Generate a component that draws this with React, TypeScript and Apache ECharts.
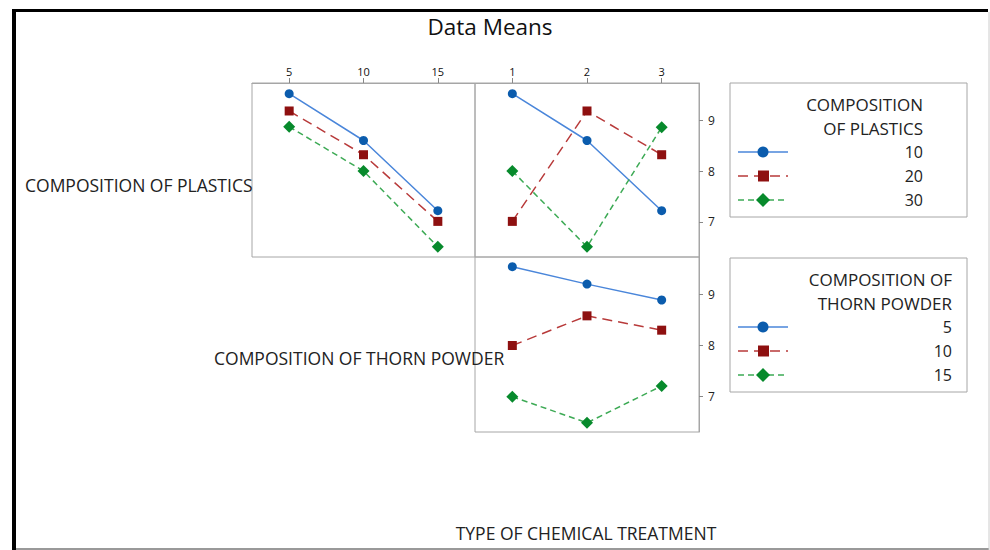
import React, { useEffect, useRef } from "react";
import * as echarts from "echarts";

const thornLevels = ["5", "10", "15"];
const treatmentLevels = ["1", "2", "3"];
const plasticsLegend = ["10", "20", "30"];
const thornLegend = ["5", "10", "15"];
const yTicks = [7, 8, 9];
const yMin = 6.31;
const yMax = 9.73;

// Means of plastics levels across thorn powder levels
const plastics10ByThorn = [9.52, 8.6, 7.22];
const plastics20ByThorn = [9.18, 8.32, 7.01];
const plastics30ByThorn = [8.87, 8.0, 6.51];
// Means of plastics levels across chemical treatment
const plastics10ByTreatment = [9.52, 8.6, 7.22];
const plastics20ByTreatment = [7.01, 9.18, 8.32];
const plastics30ByTreatment = [8.0, 6.51, 8.86];
// Means of thorn powder levels across chemical treatment
const thorn5ByTreatment = [9.54, 9.2, 8.89];
const thorn10ByTreatment = [8.0, 8.58, 8.3];
const thorn15ByTreatment = [7.0, 6.49, 7.21];

const FONT = "'Open Sans', 'Noto Sans', sans-serif";
const BORDER = "#a6a6a6";

const styles = [
  { symbol: "circle", size: 9, marker: "#0B5CAD", line: "#4A86DA", type: "solid" as any, width: 1.5 },
  { symbol: "rect", size: 9, marker: "#8E1010", line: "#B83A3A", type: [10, 6] as any, width: 1.5 },
  { symbol: "diamond", size: 12, marker: "#078A2C", line: "#3DAA55", type: [6, 4] as any, width: 1.5 },
];

function mkSeries(name: string, data: number[], idx: number, s: number) {
  const st = styles[s];
  return {
    name,
    type: "line",
    xAxisIndex: idx,
    yAxisIndex: idx,
    data,
    symbol: st.symbol,
    symbolSize: st.size,
    itemStyle: { color: st.marker },
    lineStyle: { color: st.line, width: st.width, type: st.type },
    emphasis: { disabled: true },
    z: 3,
  };
}

function legendGraphic(x: number, y: number, titleLines: string[], values: string[], rightX: number) {
  const els: any[] = [];
  els.push({
    type: "rect",
    shape: { x, y, width: 237, height: 134 },
    style: { fill: "#fff", stroke: BORDER, lineWidth: 1 },
  });
  titleLines.forEach((t, i) => {
    els.push({
      type: "text",
      style: {
        text: t,
        x: rightX,
        y: y + 21 + i * 24,
        align: "right",
        verticalAlign: "middle",
        font: `17px ${FONT}`,
        fill: "#222",
      },
    });
  });
  values.forEach((v, i) => {
    const cy = y + 69 + i * 24;
    const st = styles[i];
    els.push({
      type: "line",
      shape: { x1: x + 8, y1: cy, x2: x + 58, y2: cy },
      style: { stroke: st.line, lineWidth: 1.5, lineDash: Array.isArray(st.type) ? st.type : null },
    });
    if (i === 0) {
      els.push({ type: "circle", shape: { cx: x + 33, cy, r: 5.5 }, style: { fill: st.marker } });
    } else if (i === 1) {
      els.push({ type: "rect", shape: { x: x + 28, y: cy - 5.5, width: 11, height: 11 }, style: { fill: st.marker } });
    } else {
      els.push({
        type: "polygon",
        shape: { points: [[x + 33, cy - 7], [x + 40, cy], [x + 33, cy + 7], [x + 26, cy]] },
        style: { fill: st.marker },
      });
    }
    els.push({
      type: "text",
      style: {
        text: v,
        x: rightX,
        y: cy,
        align: "right",
        verticalAlign: "middle",
        font: `16px ${FONT}`,
        fill: "#222",
      },
    });
  });
  return els;
}

export default function App() {
  const ref = useRef<HTMLDivElement>(null);
  useEffect(() => {
    if (!ref.current) return;
    const chart = echarts.init(ref.current, null, { renderer: "svg" });
    const gridCommon = { show: true, borderColor: BORDER, borderWidth: 1, backgroundColor: "transparent", containLabel: false };
    const hiddenX = (data: string[], gi: number) => ({
      type: "category",
      gridIndex: gi,
      data,
      boundaryGap: true,
      axisLine: { show: false },
      axisTick: { show: false },
      axisLabel: { show: false },
      splitLine: { show: false },
    });
    const topX = (data: string[], gi: number) => ({
      type: "category",
      gridIndex: gi,
      data,
      position: "top",
      boundaryGap: true,
      axisLine: { show: true, lineStyle: { color: BORDER } },
      axisTick: { show: true, alignWithLabel: true, length: 5, lineStyle: { color: "#888" } },
      axisLabel: { fontSize: 11, margin: 6, color: "#111", fontFamily: FONT },
      splitLine: { show: false },
    });
    const rightY = (gi: number) => ({
      type: "value",
      gridIndex: gi,
      position: "right",
      min: yMin,
      max: yMax,
      axisLine: { show: true, lineStyle: { color: BORDER } },
      axisTick: { show: true, length: 4, customValues: yTicks, lineStyle: { color: "#888" } },
      axisLabel: { customValues: yTicks, fontSize: 12, margin: 9, color: "#222", fontFamily: FONT },
      splitLine: { show: false },
    });
    const hiddenY = (gi: number) => ({
      type: "value",
      gridIndex: gi,
      min: yMin,
      max: yMax,
      axisLine: { show: false },
      axisTick: { show: false },
      axisLabel: { show: false },
      splitLine: { show: false },
    });
    const textStyle = (fs: number) => ({ font: `${fs}px ${FONT}`, fill: "#222" });
    chart.setOption({
      animation: false,
      backgroundColor: "#ffffff",
      title: {
        text: "Data Means",
        left: 485,
        top: 10,
        textAlign: "center",
        textStyle: { fontSize: 22.5, fontWeight: "normal", color: "#111", fontFamily: FONT },
      },
      grid: [
        { ...gridCommon, left: 252, top: 83, width: 223, height: 174 },
        { ...gridCommon, left: 475, top: 83, width: 224, height: 174 },
        { ...gridCommon, left: 475, top: 257, width: 224, height: 175 },
      ],
      xAxis: [topX(thornLevels, 0), topX(treatmentLevels, 1), hiddenX(treatmentLevels, 2)],
      yAxis: [hiddenY(0), rightY(1), rightY(2)],
      series: [
        mkSeries("Plastics 10 (thorn)", plastics10ByThorn, 0, 0),
        mkSeries("Plastics 20 (thorn)", plastics20ByThorn, 0, 1),
        mkSeries("Plastics 30 (thorn)", plastics30ByThorn, 0, 2),
        mkSeries("Plastics 10 (treatment)", plastics10ByTreatment, 1, 0),
        mkSeries("Plastics 20 (treatment)", plastics20ByTreatment, 1, 1),
        mkSeries("Plastics 30 (treatment)", plastics30ByTreatment, 1, 2),
        mkSeries("Thorn 5 (treatment)", thorn5ByTreatment, 2, 0),
        mkSeries("Thorn 10 (treatment)", thorn10ByTreatment, 2, 1),
        mkSeries("Thorn 15 (treatment)", thorn15ByTreatment, 2, 2),
      ],
      graphic: [
        { type: "rect", shape: { x: 12, y: 9, width: 976, height: 3 }, style: { fill: "#000" }, z: 10 },
        { type: "rect", shape: { x: 12, y: 9, width: 4, height: 541 }, style: { fill: "#000" }, z: 10 },
        { type: "line", shape: { x1: 16, y1: 549, x2: 989, y2: 549 }, style: { stroke: "#777", lineWidth: 1.5 }, z: 10 },
        { type: "line", shape: { x1: 989, y1: 12, x2: 989, y2: 550 }, style: { stroke: "#ccc", lineWidth: 1 }, z: 10 },
        {
          type: "text",
          z: 10,
          style: { text: "COMPOSITION OF PLASTICS", x: 25, y: 185, verticalAlign: "middle", ...textStyle(17.5) },
        },
        {
          type: "text",
          z: 10,
          style: { text: "COMPOSITION OF THORN POWDER", x: 214, y: 358, verticalAlign: "middle", ...textStyle(17.5) },
        },
        {
          type: "text",
          z: 10,
          style: { text: "TYPE OF CHEMICAL TREATMENT", x: 586, y: 533, align: "center", verticalAlign: "middle", ...textStyle(17.5) },
        },
        ...legendGraphic(730, 83, ["COMPOSITION", "OF PLASTICS"], plasticsLegend, 923),
        ...legendGraphic(730, 258, ["COMPOSITION OF", "THORN POWDER"], thornLegend, 952),
      ],
    });
    return () => chart.dispose();
  }, []);
  return <div ref={ref} style={{ position: "absolute", left: 0, top: 0, width: 990, height: 550 }} />;
}
